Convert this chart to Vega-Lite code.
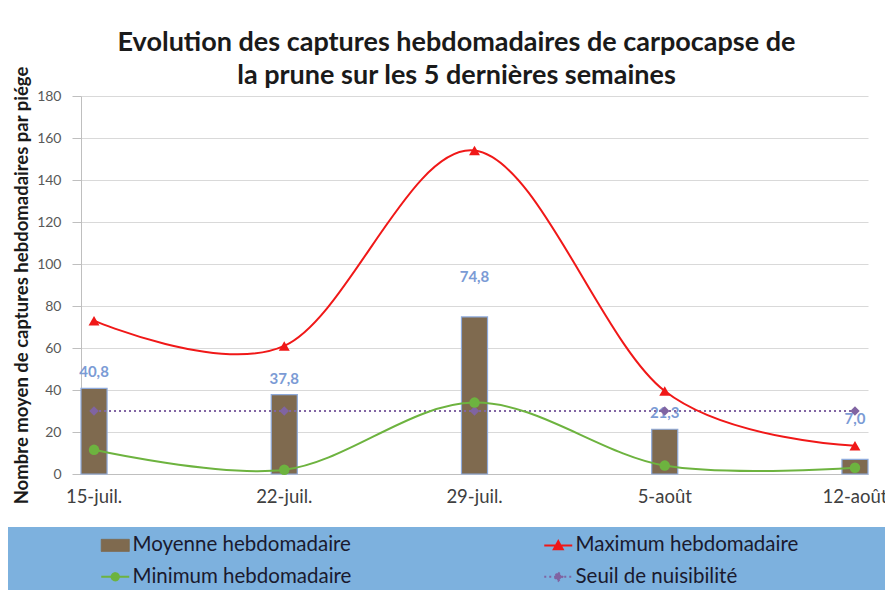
{
  "$schema": "https://vega.github.io/schema/vega-lite/v6.json",
  "width": 787,
  "height": 378,
  "autosize": {"type": "none"},
  "padding": {"left": 81, "top": 96, "right": 17, "bottom": 116},
  "background": "white",
  "config": {
    "locale": {"number": {"decimal": ",", "thousands": " ", "grouping": [3], "currency": ["", " €"]}},
    "font": "Lato",
    "view": {"stroke": null}
  },
  "title": {
    "text": ["Evolution des captures hebdomadaires de carpocapse de", "la prune sur les 5 dernières semaines"],
    "fontSize": 27,
    "fontWeight": "bold",
    "font": "Lato",
    "color": "#1a1a1a",
    "anchor": "middle",
    "dx": -18,
    "offset": -24,
    "lineHeight": 33
  },
  "data": {
    "values": [
      {"semaine": "15-juil.", "serie": "Moyenne hebdomadaire", "valeur": 40.8},
      {"semaine": "22-juil.", "serie": "Moyenne hebdomadaire", "valeur": 37.8},
      {"semaine": "29-juil.", "serie": "Moyenne hebdomadaire", "valeur": 74.8},
      {"semaine": "5-août", "serie": "Moyenne hebdomadaire", "valeur": 21.3},
      {"semaine": "12-août", "serie": "Moyenne hebdomadaire", "valeur": 7.0},
      {"semaine": "15-juil.", "serie": "Maximum hebdomadaire", "valeur": 73},
      {"semaine": "22-juil.", "serie": "Maximum hebdomadaire", "valeur": 61},
      {"semaine": "29-juil.", "serie": "Maximum hebdomadaire", "valeur": 154},
      {"semaine": "5-août", "serie": "Maximum hebdomadaire", "valeur": 39.5},
      {"semaine": "12-août", "serie": "Maximum hebdomadaire", "valeur": 13.5},
      {"semaine": "15-juil.", "serie": "Minimum hebdomadaire", "valeur": 11.5},
      {"semaine": "22-juil.", "serie": "Minimum hebdomadaire", "valeur": 2},
      {"semaine": "29-juil.", "serie": "Minimum hebdomadaire", "valeur": 34},
      {"semaine": "5-août", "serie": "Minimum hebdomadaire", "valeur": 4},
      {"semaine": "12-août", "serie": "Minimum hebdomadaire", "valeur": 3},
      {"semaine": "15-juil.", "serie": "Seuil de nuisibilité", "valeur": 30},
      {"semaine": "22-juil.", "serie": "Seuil de nuisibilité", "valeur": 30},
      {"semaine": "29-juil.", "serie": "Seuil de nuisibilité", "valeur": 30},
      {"semaine": "5-août", "serie": "Seuil de nuisibilité", "valeur": 30},
      {"semaine": "12-août", "serie": "Seuil de nuisibilité", "valeur": 30}
    ]
  },
  "encoding": {
    "x": {
      "field": "semaine",
      "type": "nominal",
      "sort": ["15-juil.", "22-juil.", "29-juil.", "5-août", "12-août"],
      "scale": {"paddingInner": 0.863, "paddingOuter": 0},
      "axis": {
        "title": null,
        "labelAngle": 0,
        "labelFontSize": 18.5,
        "labelColor": "#404040",
        "ticks": false,
        "domainColor": "#BFBFBF",
        "labelPadding": 13
      }
    },
    "y": {
      "field": "valeur",
      "type": "quantitative",
      "scale": {"domain": [0, 180]},
      "axis": {
        "title": "Nombre moyen de captures hebdomadaires par piége",
        "values": [0, 20, 40, 60, 80, 100, 120, 140, 160, 180],
        "grid": true,
        "gridColor": "#D9D9D9",
        "domainColor": "#BFBFBF",
        "tickColor": "#BFBFBF",
        "tickSize": 9,
        "labelFontSize": 14,
        "labelColor": "#595959",
        "labelPadding": 11,
        "titleFontSize": 18.5,
        "titleFontWeight": "bold",
        "titleColor": "#1a1a1a",
        "titlePadding": 5
      }
    },
    "color": {
      "field": "serie",
      "type": "nominal",
      "scale": {
        "domain": ["Moyenne hebdomadaire", "Minimum hebdomadaire", "Maximum hebdomadaire", "Seuil de nuisibilité"],
        "range": ["#7F6A4F", "#6DB33F", "#F01818", "#8064A2"]
      },
      "legend": {
        "title": "\u00a0",
        "titleOrient": "right",
        "titlePadding": 95,
        "orient": "none",
        "legendX": -73,
        "legendY": 431,
        "columns": 2,
        "fillColor": "#7DB1DE",
        "padding": 8,
        "symbolSize": 784,
        "symbolStrokeWidth": 2,
        "symbolOffset": 89,
        "labelFontSize": 20.5,
        "labelFont": "Lato",
        "labelColor": "#1a1a2e",
        "labelOffset": 7,
        "labelLimit": 400,
        "columnPadding": 107,
        "rowPadding": 10.5,
        "encode": {
          "symbols": {
            "update": {
              "shape": {"signal": "datum.value === 'Moyenne hebdomadaire' ? 'M-1,-0.43H1V0.43H-1Z' : datum.value === 'Maximum hebdomadaire' ? 'M-1,0H1M-0.32,0.28L0,-0.3L0.32,0.28Z' : datum.value === 'Minimum hebdomadaire' ? 'M-1,0H1M0.26,0A0.26,0.26 0 1 1 -0.26,0A0.26,0.26 0 1 1 0.26,0Z' : 'M-1,0H1M0,-0.3L0.3,0L0,0.3L-0.3,0Z'"},
              "fill": {"scale": "color", "field": "value"},
              "stroke": {"signal": "datum.value === 'Moyenne hebdomadaire' ? '#8C8FA8' : scale('color', datum.value)"},
              "strokeDash": {"signal": "datum.value === 'Seuil de nuisibilité' ? [2, 3] : [1, 0]"},
              "strokeWidth": {"signal": "datum.value === 'Moyenne hebdomadaire' ? 1 : 2"},
              "opacity": {"value": 1}
            }
          }
        }
      }
    }
  },
  "layer": [
    {
      "transform": [{"filter": "datum.serie === 'Moyenne hebdomadaire'"}],
      "mark": {"type": "bar", "stroke": "#8EAADB", "strokeWidth": 1.2}
    },
    {
      "transform": [{"filter": "datum.serie === 'Moyenne hebdomadaire' && datum.semaine !== '29-juil.' && datum.semaine !== '12-août'"}],
      "mark": {"type": "text", "dy": -16, "fontSize": 15, "fontWeight": "bold", "baseline": "middle"},
      "encoding": {
        "text": {"field": "valeur", "type": "quantitative", "format": ".1f"},
        "color": {"value": "#7B9BD5"}
      }
    },
    {
      "transform": [{"filter": "datum.serie === 'Moyenne hebdomadaire' && (datum.semaine === '29-juil.' || datum.semaine === '12-août')"}],
      "mark": {"type": "text", "dy": -40, "fontSize": 15, "fontWeight": "bold", "baseline": "middle"},
      "encoding": {
        "text": {"field": "valeur", "type": "quantitative", "format": ".1f"},
        "color": {"value": "#7B9BD5"}
      }
    },
    {
      "transform": [{"filter": "datum.serie === 'Seuil de nuisibilité'"}],
      "mark": {"type": "line", "strokeDash": [2, 3], "strokeWidth": 2, "point": {"shape": "diamond", "size": 90, "filled": true}}
    },
    {
      "transform": [{"filter": "datum.serie === 'Minimum hebdomadaire'"}],
      "mark": {"type": "line", "interpolate": "cardinal", "strokeWidth": 2, "point": {"shape": "circle", "size": 110, "filled": true}}
    },
    {
      "transform": [{"filter": "datum.serie === 'Maximum hebdomadaire'"}],
      "mark": {"type": "line", "interpolate": "cardinal", "strokeWidth": 2, "point": {"shape": "triangle-up", "size": 120, "filled": true}}
    }
  ]
}
